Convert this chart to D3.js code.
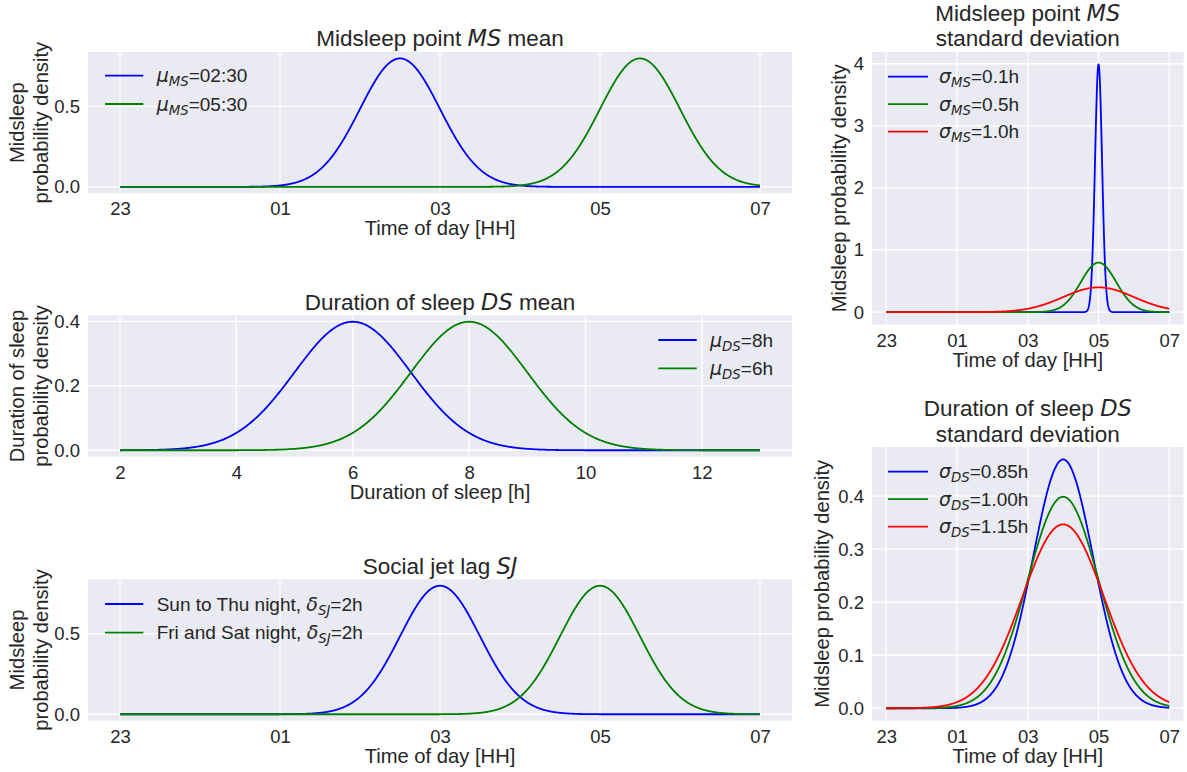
<!DOCTYPE html>
<html>
<head>
<meta charset="utf-8">
<script src="https://cdn.jsdelivr.net/npm/d3@7"></script>
<style>
  body { margin: 0; background: #ffffff; }
  svg text { font-family: "Liberation Sans", Arial, sans-serif; fill: #262626; }
  .math { font-family: "DejaVu Sans", sans-serif; font-style: italic; }
</style>
</head>
<body>
<svg id="fig" width="1187" height="772"></svg>
<script>
// ---- Night clock axis: 23 h is written as -1 so the axis runs on to 07 h ----
const nightRange = [-1, 7];
const hourTickValues = [-1, 1, 3, 5, 7];
const hourTickLabels = ["23", "01", "03", "05", "07"];

// ---- Midsleep point MS: mean shifted ----
const msMeanValues = [2.5, 5.5];
const msMeanSd = 0.5;
const msMeanLabels = ["02:30", "05:30"];
const msMeanYTicks = [0, 0.5];

// ---- Duration of sleep DS: mean shifted ----
const durationRange = [2, 13];
const durationTicks = [2, 4, 6, 8, 10, 12];
const dsCurveMeans = [6, 8];
const dsMeanSd = 1;
const dsMeanLabels = ["8h", "6h"];
const dsMeanYTicks = [0, 0.2, 0.4];

// ---- Social jet lag SJ ----
const sjMeans = [3, 5];
const sjSd = 0.5;
const sjPrefixes = ["Sun to Thu night, ", "Fri and Sat night, "];
const sjDeltaLabels = ["2h", "2h"];
const sjYTicks = [0, 0.5];

// ---- Midsleep point MS: standard deviation varied ----
const msSdMean = 5;
const msSdValues = [0.1, 0.5, 1.0];
const msSdLabels = ["0.1h", "0.5h", "1.0h"];
const msSdYTicks = [0, 1, 2, 3, 4];

// ---- Duration of sleep DS: standard deviation varied ----
const dsSdMean = 4;
const dsSdValues = [0.85, 1.00, 1.15];
const dsSdLabels = ["0.85h", "1.00h", "1.15h"];
const dsSdYTicks = [0, 0.1, 0.2, 0.3, 0.4];

const lineColors = ["#0000ff", "#008000", "#ff0000"];

// Normal density of a curve with the given mean and standard deviation
function normalPdf(x, mu, sd) {
  const z = (x - mu) / sd;
  return Math.exp(-0.5 * z * z) / (sd * Math.sqrt(2 * Math.PI));
}
function densityCurve(range, mu, sd) {
  const n = 1100;
  return d3.range(n + 1).map(i => {
    const x = range[0] + (range[1] - range[0]) * i / n;
    return [x, normalPdf(x, mu, sd)];
  });
}
// 5% padding on either side, as in the plotting defaults
function padded(ext) {
  const s = ext[1] - ext[0];
  return [ext[0] - 0.05 * s, ext[1] + 0.05 * s];
}

const svg = d3.select("#fig");
const TICK_FS = 18.5, LABEL_FS = 20.2, TITLE_FS = 22.5, LEGEND_FS = 19;

function addParts(textSel, parts, size) {
  parts.forEach(p => {
    const t = textSel.append("tspan").text(p.t);
    if (p.math) t.attr("class", "math");
    if (p.sub) t.attr("font-size", size * 0.7).attr("dy", 4);
    if (p.after) t.attr("dy", -4);
  });
}

function drawPanel(cfg) {
  const g = svg.append("g");
  const allPts = cfg.curves.flatMap(c => c.pts);
  const yMax = d3.max(allPts, d => d[1]);
  const x = d3.scaleLinear().domain(padded(cfg.xRange)).range([cfg.left, cfg.right]);
  const y = d3.scaleLinear().domain(padded([0, yMax])).range([cfg.bottom, cfg.top]);

  g.append("rect")
    .attr("x", cfg.left).attr("y", cfg.top)
    .attr("width", cfg.right - cfg.left).attr("height", cfg.bottom - cfg.top)
    .attr("fill", "#eaeaf2");

  // grid
  g.selectAll(".gx").data(cfg.xTicks).join("line")
    .attr("x1", d => x(d)).attr("x2", d => x(d))
    .attr("y1", cfg.top).attr("y2", cfg.bottom)
    .attr("stroke", "#ffffff").attr("stroke-width", 1.3);
  g.selectAll(".gy").data(cfg.yTicks).join("line")
    .attr("y1", d => y(d)).attr("y2", d => y(d))
    .attr("x1", cfg.left).attr("x2", cfg.right)
    .attr("stroke", "#ffffff").attr("stroke-width", 1.3);

  // axes
  const ax = g.append("g").attr("transform", `translate(0,${cfg.bottom})`)
    .call(d3.axisBottom(x).tickValues(cfg.xTicks)
      .tickFormat((d, i) => cfg.xTickLabels[i]).tickSize(0).tickPadding(9));
  const ay = g.append("g").attr("transform", `translate(${cfg.left},0)`)
    .call(d3.axisLeft(y).tickValues(cfg.yTicks)
      .tickFormat(d3.format(cfg.yFormat)).tickSize(0).tickPadding(8));
  [ax, ay].forEach(a => {
    a.select(".domain").remove();
    a.attr("font-family", null).attr("font-size", null);
    a.selectAll("text").attr("font-size", TICK_FS).attr("fill", "#262626");
  });

  // curves
  const line = d3.line().x(d => x(d[0])).y(d => y(d[1]));
  cfg.curves.forEach(c => {
    g.append("path").datum(c.pts).attr("d", line)
      .attr("fill", "none").attr("stroke", c.color)
      .attr("stroke-width", 1.8).attr("stroke-linejoin", "round");
  });

  // title
  const cx = (cfg.left + cfg.right) / 2;
  cfg.title.forEach((parts, i) => {
    const t = g.append("text").attr("x", cx).attr("y", cfg.titleY[i])
      .attr("text-anchor", "middle").attr("font-size", TITLE_FS);
    addParts(t, parts, TITLE_FS);
  });

  // axis labels
  g.append("text").attr("x", cx).attr("y", cfg.bottom + 42)
    .attr("text-anchor", "middle").attr("font-size", LABEL_FS).text(cfg.xLabel);
  const yl = g.append("text")
    .attr("transform", `translate(${cfg.yLabelX},${(cfg.top + cfg.bottom) / 2}) rotate(-90)`)
    .attr("text-anchor", "middle").attr("font-size", LABEL_FS);
  cfg.yLabel.forEach((s, i) => {
    yl.append("tspan").attr("x", 0).attr("y", i * 24).text(s);
  });

  // legend
  const L = cfg.legend;
  cfg.curves.forEach((c, i) => {
    const yy = L.y + i * L.step;
    g.append("line").attr("x1", L.x0).attr("x2", L.x1).attr("y1", yy).attr("y2", yy)
      .attr("stroke", c.color).attr("stroke-width", 1.8);
    const t = g.append("text").attr("x", L.tx).attr("y", yy + 6.5).attr("font-size", LEGEND_FS);
    addParts(t, c.label, LEGEND_FS);
  });
}

const mathLabel = (prefix, sym, sub, rest) => [
  { t: prefix }, { t: sym, math: true }, { t: sub, math: true, sub: true }, { t: rest, after: true }
];

// Midsleep point MS mean
drawPanel({
  left: 88, right: 792, top: 52, bottom: 193.3,
  xRange: nightRange, xTicks: hourTickValues, xTickLabels: hourTickLabels,
  yTicks: msMeanYTicks, yFormat: ".1f",
  curves: msMeanValues.map((m, i) => ({
    pts: densityCurve(nightRange, m, msMeanSd), color: lineColors[i],
    label: mathLabel("", "\u03bc", "MS", "=" + msMeanLabels[i])
  })),
  title: [[{ t: "Midsleep point " }, { t: "MS", math: true }, { t: " mean" }]],
  titleY: [46],
  xLabel: "Time of day [HH]",
  yLabel: ["Midsleep", "probability density"], yLabelX: 23.5,
  legend: { x0: 105, x1: 143.3, tx: 156.7, y: 75.7, step: 28.3 }
});

// Duration of sleep DS mean
drawPanel({
  left: 88, right: 792, top: 315.3, bottom: 456.7,
  xRange: durationRange, xTicks: durationTicks, xTickLabels: durationTicks.map(String),
  yTicks: dsMeanYTicks, yFormat: ".1f",
  curves: dsCurveMeans.map((m, i) => ({
    pts: densityCurve(durationRange, m, dsMeanSd), color: lineColors[i],
    label: mathLabel("", "\u03bc", "DS", "=" + dsMeanLabels[i])
  })),
  title: [[{ t: "Duration of sleep " }, { t: "DS", math: true }, { t: " mean" }]],
  titleY: [309.5],
  xLabel: "Duration of sleep [h]",
  yLabel: ["Duration of sleep", "probability density"], yLabelX: 23.5,
  legend: { x0: 658.3, x1: 696.7, tx: 710, y: 340, step: 28.3 }
});

// Social jet lag SJ
drawPanel({
  left: 88, right: 792, top: 579.3, bottom: 720.7,
  xRange: nightRange, xTicks: hourTickValues, xTickLabels: hourTickLabels,
  yTicks: sjYTicks, yFormat: ".1f",
  curves: sjMeans.map((m, i) => ({
    pts: densityCurve(nightRange, m, sjSd), color: lineColors[i],
    label: mathLabel(sjPrefixes[i], "\u03b4", "SJ", "=" + sjDeltaLabels[i])
  })),
  title: [[{ t: "Social jet lag " }, { t: "SJ", math: true }]],
  titleY: [573.5],
  xLabel: "Time of day [HH]",
  yLabel: ["Midsleep", "probability density"], yLabelX: 23.5,
  legend: { x0: 105, x1: 143.3, tx: 156.7, y: 604, step: 28.7 }
});

// Midsleep point MS standard deviation
drawPanel({
  left: 872, right: 1183.5, top: 52, bottom: 324.5,
  xRange: nightRange, xTicks: hourTickValues, xTickLabels: hourTickLabels,
  yTicks: msSdYTicks, yFormat: "d",
  curves: msSdValues.map((s, i) => ({
    pts: densityCurve(nightRange, msSdMean, s), color: lineColors[i],
    label: mathLabel("", "\u03c3", "MS", "=" + msSdLabels[i])
  })),
  title: [[{ t: "Midsleep point " }, { t: "MS", math: true }], [{ t: "standard deviation" }]],
  titleY: [20.5, 46],
  xLabel: "Time of day [HH]",
  yLabel: ["Midsleep probability density"], yLabelX: 845.7,
  legend: { x0: 888, x1: 928, tx: 939, y: 76.7, step: 27.5 }
});

// Duration of sleep DS standard deviation
drawPanel({
  left: 872, right: 1183.5, top: 447, bottom: 720.7,
  xRange: nightRange, xTicks: hourTickValues, xTickLabels: hourTickLabels,
  yTicks: dsSdYTicks, yFormat: ".1f",
  curves: dsSdValues.map((s, i) => ({
    pts: densityCurve(nightRange, dsSdMean, s), color: lineColors[i],
    label: mathLabel("", "\u03c3", "DS", "=" + dsSdLabels[i])
  })),
  title: [[{ t: "Duration of sleep " }, { t: "DS", math: true }], [{ t: "standard deviation" }]],
  titleY: [416, 441.7],
  xLabel: "Time of day [HH]",
  yLabel: ["Midsleep probability density"], yLabelX: 829,
  legend: { x0: 888, x1: 928, tx: 939, y: 471.7, step: 27.5 }
});
</script>
</body>
</html>
